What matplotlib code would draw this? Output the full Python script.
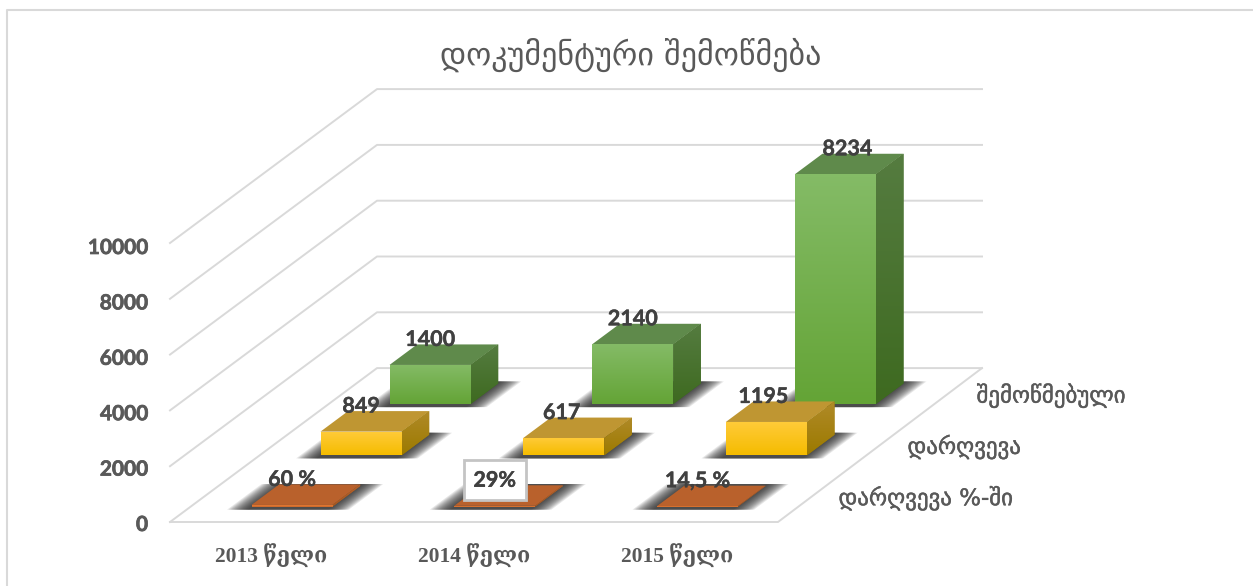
#!/usr/bin/env python
# -*- coding: utf-8 -*-

import matplotlib
matplotlib.use('Agg')
import matplotlib.pyplot as plt
import matplotlib.patheffects as pe
import numpy as np

from matplotlib.colors import LinearSegmentedColormap
from matplotlib.patches import Polygon

#
# DATA
#

YEARS = ['2013 წელი', '2014 წელი', '2015 წელი']
SERIES = ['დარღვევა %-ში', 'დარღვევა', 'შემოწმებული']
TITLE = 'დოკუმენტური შემოწმება'
Y_TICKS = [0, 2000, 4000, 6000, 8000, 10000]

PERCENT = [60, 29, 14.5]
VIOLATIONS = [849, 617, 1195]
CHECKED = [1400, 2140, 8234]

PERCENT_LABELS = ['60 %', '29%', '14,5 %']

#
# LAYOUT (oblique projection of the 3D chart, everything goes through depth())
#

W, H = 1253, 586
PX_PER_CAT = 202.67
PX_PER_VALUE = 0.0279
X0_PX, Y0_PX = 170, 522
DEPTH_DX = 69 / PX_PER_CAT  # one series row back, in category units
DEPTH_DY = 51.3 / PX_PER_VALUE  # one series row back, in value units
BACK_TRIM = 3 / PX_PER_CAT  # the back wall is a little shorter than the front edge
BAR_W = 0.4
BAR_D = 0.4
ROW_PAD = 0.3

GRID = '#d9d9d9'
TEXT = '#595959'
LABEL = '#404040'
GEORGIAN = ['DejaVu Sans']
NUMBERS = ['Lato', 'DejaVu Sans']
SERIF = ['Liberation Serif', 'DejaVu Serif']
BOLDER = [pe.withStroke(linewidth=0.5, foreground=TEXT)]
BOLDER_LABEL = [pe.withStroke(linewidth=0.3, foreground=LABEL)]

# labels that were moved by hand in the original, in pixels
LABEL_NUDGE = {'8234': 12, '1195': -3, '617': -2}

STYLES = [
    dict(front=('#e57b33', '#c9672b'), side=('#b5622b', '#a8581f'), top='#b9612c'),
    dict(front=('#ffcb3a', '#f5bc00'), side=('#b08a28', '#9c7a00'), top='#bf9632'),
    dict(front=('#84bb66', '#64a436'), side=('#557c40', '#3e6a20'), top='#5f8a4b'),
]


def depth(x, d, v):
    return x + d * DEPTH_DX, v + d * DEPTH_DY


def face(ax, corners, colors):
    """Fill a polygon with a vertical gradient, clipped to the polygon."""
    pts = np.array(corners)
    poly = Polygon(pts, closed=True, fc='none', ec='none')
    ax.add_patch(poly)
    cmap = LinearSegmentedColormap.from_list('f', colors)
    im = ax.imshow(np.linspace(0, 1, 64).reshape(-1, 1), cmap=cmap, aspect='auto', origin='upper',
                   extent=[pts[:, 0].min(), pts[:, 0].max(), pts[:, 1].min(), pts[:, 1].max()],
                   interpolation='bilinear', zorder=poly.get_zorder())
    im.set_clip_path(poly)
    return im


def bar(ax, cat, row, value, style, z):
    x0, x1 = cat + 0.5 - BAR_W / 2, cat + 0.5 + BAR_W / 2
    d0, d1 = row + ROW_PAD, row + ROW_PAD + BAR_D

    # soft shadow on the floor, stacked see-through footprints
    for grow in np.linspace(0.1, 0.0, 14):
        ax.add_patch(Polygon([depth(x0 - grow, d0 - 0.06, 0), depth(x1 + grow, d0 - 0.06, 0),
                              depth(x1 + grow, d1 + 0.04, 0), depth(x0 - grow, d1 + 0.04, 0)],
                             closed=True, fc='#262626', ec='none', alpha=0.11, zorder=z))

    top = [depth(x0, d0, value), depth(x1, d0, value), depth(x1, d1, value), depth(x0, d1, value)]
    ax.add_patch(Polygon(top, closed=True, fc=style['top'], ec='none', zorder=z + 0.1))

    side = [depth(x1, d0, 0), depth(x1, d1, 0), depth(x1, d1, value), depth(x1, d0, value)]
    ax.add_patch(Polygon(side, closed=True, fc=style['side'][1], ec='none', zorder=z + 0.1))
    im = face(ax, side, style['side'])
    im.set_zorder(z + 0.2)

    front = [depth(x0, d0, 0), depth(x1, d0, 0), depth(x1, d0, value), depth(x0, d0, value)]
    im = face(ax, front, style['front'])
    im.set_zorder(z + 0.3)


def plot_chart():
    fig = plt.figure(figsize=(W / 100, H / 100), dpi=100, facecolor='white')
    ax = fig.add_axes([0, 0, 1, 1])
    ax.set_xlim(-X0_PX / PX_PER_CAT, (W - X0_PX) / PX_PER_CAT)
    ax.set_ylim(-(H - Y0_PX) / PX_PER_VALUE, Y0_PX / PX_PER_VALUE)
    ax.axis('off')

    n_rows = len(SERIES)
    n_cats = len(YEARS)
    back_right = n_cats - BACK_TRIM

    # walls and floor
    for v in Y_TICKS:
        ax.plot(*zip(depth(0, 0, v), depth(0, n_rows, v), depth(back_right, n_rows, v)), color=GRID, lw=1.4, zorder=1)
    ax.plot(*zip(depth(0, 0, 0), depth(n_cats, 0, 0), depth(back_right, n_rows, 0)), color=GRID, lw=1.4, zorder=1)

    # back rows are painted first
    rows = [PERCENT, VIOLATIONS, CHECKED]
    for row in reversed(range(n_rows)):
        for cat, value in enumerate(rows[row]):
            bar(ax, cat, row, value, STYLES[row], 10 + 3 * (n_rows - row))

    # data labels
    labels = [PERCENT_LABELS, [str(v) for v in VIOLATIONS], [str(v) for v in CHECKED]]
    for row in range(n_rows):
        for cat, value in enumerate(rows[row]):
            text = labels[row][cat]
            px, _ = depth(cat + 0.5, row + ROW_PAD, value)
            _, py = depth(cat + 0.5, row + ROW_PAD + BAR_D, value)
            nudge = LABEL_NUDGE.get(text, 0)
            boxed = text == '29%'
            ax.text(px + nudge / PX_PER_CAT, py + 5 / PX_PER_VALUE, text, ha='center', va='center', fontsize=15.5,
                    fontweight='bold', family=NUMBERS, color=LABEL, zorder=30, path_effects=BOLDER_LABEL,
                    bbox=dict(fc='white', ec='#c4c4c4', lw=2, boxstyle='square,pad=0.45') if boxed else None)

    # tick labels
    for v in Y_TICKS:
        px, py = depth(0, 0, v)
        ax.text(px - 22 / PX_PER_CAT, py - 3 / PX_PER_VALUE - v * 0.0002 / PX_PER_VALUE, str(v), ha='right',
                va='center', fontsize=15, fontweight='bold', family=NUMBERS, color=TEXT, path_effects=BOLDER)
    for cat, year in enumerate(YEARS):
        ax.text(cat + 0.5, -34 / PX_PER_VALUE, year, ha='center', va='center', fontsize=15.5, fontweight='bold',
                family=SERIF, color=TEXT)
    for row, name in enumerate(SERIES):
        px, py = depth(n_cats, row + 0.5, 0)
        ax.text(px + 26 / PX_PER_CAT, py - 2 / PX_PER_VALUE, name, ha='left', va='center', fontsize=16.5,
                family=GEORGIAN, color=TEXT, path_effects=[pe.withStroke(linewidth=0.3, foreground=TEXT)])

    fig.text(631 / W, 1 - 55 / H, TITLE, ha='center', va='center', fontsize=23, family=GEORGIAN, color=TEXT)

    # chart frame, open on the right
    fig.add_artist(plt.Line2D([7 / W, 7 / W, 1], [0, 1 - 10 / H, 1 - 10 / H], color='#d9d9d9', lw=1.5))

    fig.savefig('out.png', dpi=100)


if __name__ == '__main__':
    plot_chart()
